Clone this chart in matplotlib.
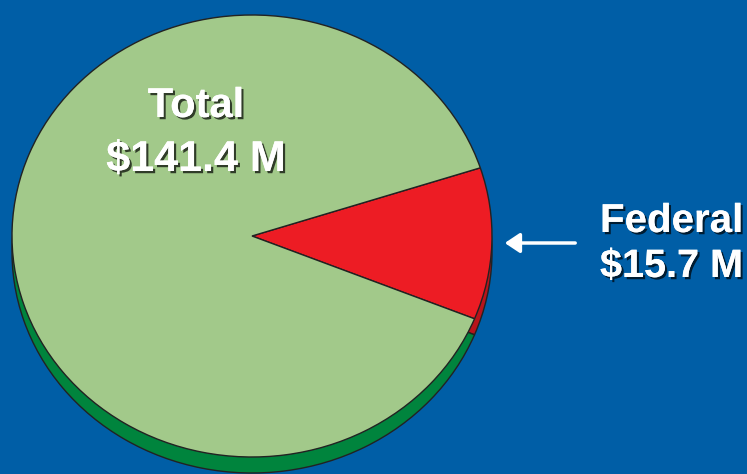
import matplotlib.pyplot as plt
import matplotlib.patheffects as pe

# funding split (millions of dollars)
labels = ['Federal', 'Other']
values = [15.7, 141.4 - 15.7]
total = 141.4

top_colors = ['#ED1C24', '#A2C98A']
side_colors = ['#B8141B', '#00843D']
bg = '#005EA6'

W, H = 747, 474
fig = plt.figure(figsize=(W / 100, H / 100), dpi=100, facecolor=bg)
ax = fig.add_axes([0, 0, 1, 1])
ax.set_facecolor(bg)
ax.axis('off')

# pie centre and radii in pixels (tilted → ellipse)
cx, cy = 252, 236
rx, ry = 240, 221
depth = 16

start = -22
wedge_kw = dict(edgecolor='#222222', linewidth=1.0)
ax.pie(values, colors=side_colors, startangle=start, counterclock=True,
       center=(0, -depth / ry), radius=1, wedgeprops=wedge_kw, frame=True)
ax.pie(values, colors=top_colors, startangle=start, counterclock=True,
       center=(0, 0), radius=1, wedgeprops=wedge_kw, frame=True)
ax.set_xlim(-cx / rx, (W - cx) / rx)
ax.set_ylim(-(H - cy) / ry, cy / ry)
ax.set_aspect('auto')
ax.axis('off')

shadow = [pe.withSimplePatchShadow(offset=(1.6, -1.6), shadow_rgbFace='black', alpha=0.7),
          pe.Normal()]
tfont = dict(family='Liberation Sans', weight='bold', color='white',
             ha='center', va='center', path_effects=shadow)

fig.text(196 / W, 1 - 106 / H, 'Total', fontsize=30, **tfont)
fig.text(196 / W, 1 - 160 / H, f'${total} M', fontsize=31, **tfont)

ffont = dict(family='Liberation Sans', weight='bold', color='white',
             ha='left', va='center', path_effects=shadow)
fig.text(600 / W, 1 - 221 / H, labels[0], fontsize=29, **ffont)
fig.text(600 / W, 1 - 266 / H, f'${values[0]} M', fontsize=28.5, **ffont)

fig.patches.append(plt.matplotlib.patches.FancyArrowPatch(
    (578 / W, 1 - 243 / H), (502 / W, 1 - 243 / H), transform=fig.transFigure,
    arrowstyle='-|>,head_length=6,head_width=4', color='white', lw=2.5,
    mutation_scale=1.5))

fig.savefig('out.png', dpi=100, facecolor=bg)
